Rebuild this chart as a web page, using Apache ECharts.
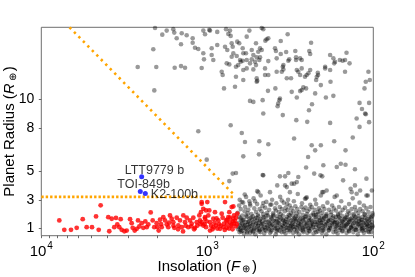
<!DOCTYPE html>
<html><head><meta charset="utf-8">
<script src="https://cdn.jsdelivr.net/npm/echarts@6/dist/echarts.min.js"></script>
<style>html,body{margin:0;padding:0;background:#fff}#c{width:415px;height:277px}</style>
</head><body><div id="c"></div>
<script>
// ---- data: insolation (Earth units), radius (Earth radii) ----
const xTicks = [10000, 1000, 100];
const xMinorTicks = [9000,8000,7000,6000,5000,4000,3000,2000,900,800,700,600,500,400,300,200];
const yTicks = [1, 3, 5, 8, 10];

// small, highly irradiated planets (red)
const hotSmall = [
[7790,1.56],[7270,0.91],[6625,0.91],[6120,1.05],[5630,1.65],[5330,1.09],[4950,1.09],[4680,1.84],[4510,0.91],[4390,2.61],
[3950,1.79],[3895,0.81],[3765,1.68],[3635,1.09],[3550,1.74],[3485,1.28],[3390,1.09],[3325,1.65],[3280,0.91],[3160,0.81],
[3060,0.86],[2920,1.65],[2855,1.37],[2815,1.05],[2737,0.86],[2663,0.98],[2615,1.56],[2568,1.14],[2485,1.37],[2430,1.05],
[2363,1.49],[2318,1.09],[2267,1.28],[2193,2.12],[2133,1.56],[2086,1.09],[2018,1.37],[1963,0.86],[1927,1.61],[1883,1.09],
[1841,1.79],[1798,1.56],[1756,1.28],[1718,1.09],[1678,1.91],[1639,1.68],[1603,1.44],[1581,1.05],[1529,1.75],[1495,1.21],
[1460,1.56],[1426,1.09],[1395,1.91],[1362,1.44],[1331,1.75],[1302,1.09],[1272,1.56],[1242,1.33],[1214,1.75],[1186,1.05],
[1158,1.44],[1117,1.91],[1107,1.56],[1092,2.14],[1081,2.72],[1057,1.21],[1032,1.68],[1000,2.84],[973,2.26],
[1081,2.84],[1057,2.37],[1018,2.26],[1032,1.79],[986,1.91],[1081,1.44],[1018,1.09],[963,1.44],[920,1.68],[899,2.14],
[887,1.21],[858,1.56],[838,0.98],[819,2.03],[808,1.75],[793,1.33],[782,2.84],[771,1.56],[764,1.05],[747,1.79],
[737,2.14],[730,1.44],[713,1.28],[697,1.68],[690,1.91],[681,1.52],[672,1.75],[660,2.03],[713,2.49],[697,2.54],
[963,0.86],[920,1.09],[1040,1.3],[1010,1.5],[950,1.2],[930,0.95],[905,1.4],[870,1.0],[850,1.3],[830,1.2],
[800,1.1],[785,0.9],[760,1.3],[740,1.0],[720,1.2],[705,0.95],[690,1.35],[675,1.15],[665,1.3],[880,1.7],
[760,1.6],[700,1.5],[730,1.75],[1100,1.3],[1150,1.2],[1200,0.95],[1250,1.15],[1350,1.2],[1400,0.8],[1500,0.95],
[1600,1.2],[1700,1.4],[1900,1.3],[2000,1.1]
];

// all other planets, sparse upper part
const othersUpper = [
[2065,14.95],[1867,14.49],[1756,14.77],[1603,14.87],[1581,14.63],[1529,14.24],[1426,14.59],[1440,13.82],[1331,14.45],[1225,14.24],
[1225,13.93],[1186,13.58],[1133,13.49],[1057,14.77],[1032,14.52],[1057,13.19],[1047,12.77],[973,14.82],[2115,13.47],[2626,12.24],
[2029,12.24],[1572,12.19],[1440,12.30],[1362,12.19],[1081,12.17],[2086,10.61],[1133,7.77],
[963,14.77],[871,14.68],[771,14.87],[730,14.77],[747,14.54],[723,14.40],[558,14.77],[470,14.95],[460,14.87],[328,14.52],
[579,14.35],[941,13.54],[941,13.07],[920,12.72],[871,13.77],[782,13.65],[758,13.42],[713,13.89],[703,13.65],[660,14.0],
[642,13.89],[612,13.54],[607,13.19],[697,13.19],[713,12.95],[665,13.0],[635,12.72],[579,12.72],[585,13.19],[540,13.42],
[528,13.07],[509,13.89],[493,13.30],[481,13.54],[470,13.42],[447,14.07],[439,14.17],[429,14.24],[361,14.05],[391,13.54],
[386,13.35],[361,13.14],[335,13.28],[295,13.35],[237,13.93],[243,13.35],[240,13.14],[292,12.91],[292,12.72],[276,12.84],
[270,12.72],[321,12.77],[325,12.67],[348,12.37],[351,12.26],[382,12.84],[429,12.65],[504,12.91],[486,12.72],[481,12.91],
[516,12.60],[553,12.49],[540,12.77],[509,12.37],[528,12.07],[612,12.67],[629,12.60],[764,12.49],[737,12.42],[672,12.26],
[651,12.37],[607,12.03],[579,12.14],[819,11.91],[808,11.68],[672,11.56],[607,11.33],[793,10.75],[681,10.86],[504,11.45],
[504,11.21],[449,11.68],[449,12.14],[429,11.68],[382,11.91],[356,11.91],[348,12.07],[332,11.45],[313,11.45],[289,12.03],
[283,11.91],[276,11.68],[270,12.14],[258,11.56],[252,11.68],[240,12.03],[246,11.80],[216,11.84],[215,11.68],[219,11.56],
[221,11.33],[207,10.98],[195,12.26],[195,12.14],[182,12.03],[182,13.07],[174,12.84],[170,12.60],[172,12.49],[159,12.72],
[153,12.67],[148,12.72],[145,13.23],[139,12.49],[148,11.91],[181,11.21],[174,10.23],[193,10.12],[224,10.40],[234,9.65],
[244,9.23],[264,10.82],[254,10.75],[270,10.63],[276,10.56],[289,10.12],[310,10.51],[351,8.89],[365,10.05],[368,9.93],
[374,9.70],[377,9.51],[389,10.75],[431,10.58],[464,9.93],[460,9.0],[553,9.88],[528,9.81],[500,11.28],[723,8.19],
[620,7.65],[291,8.54],[250,8.42],[182,8.35],[133,7.33],[107,11.91],[105,11.33],[111,11.21],[113,10.75],[121,9.74],
[106,9.74],[117,9.32],[112,9.0],[111,8.95],[126,8.65],[121,8.07],[106,8.40],[300,7.26],
[593,7.02],[486,7.07],[429,6.86],[488,6.16],[607,6.02],[235,6.79],[207,6.79],[224,6.44],[172,7.07],[147,6.44],
[247,5.98],[254,5.24],[200,5.40],[157,5.51],[147,5.44],[129,5.12],[166,5.28],[227,4.82],[283,4.58],[289,4.23],
[300,4.12],[365,4.63],[340,4.63],[379,4.0],[460,4.70],[493,3.53],[419,3.53],[152,4.35],[110,4.47],[102,3.65],
[120,3.65],[191,3.65],[200,3.53],[135,3.53],[703,4.82],[672,4.86],[737,4.30],[1008,5.79],[464,4.72],[595,3.37],
[500,3.60],[332,3.88],[325,4.86],[208,4.70],[203,4.63],[129,4.0],[340,4.0],[310,4.12],[318,3.53],[258,3.07],
[252,3.18],[203,3.53],[166,3.30],[137,3.77],[110,3.30],[126,3.42],[620,2.84],[553,2.72],[516,2.9],[460,2.77],
[411,2.67],[356,2.95],[330,2.72]
];

// all other planets, dense small-planet band
const othersBand = [
[652,0.95],[646,1.4],[655,2.1],[643,2.6],[640,0.75],[635,1.2],[632,1.7],[638,3.0],[627,1.05],[622,1.55],[629,2.35],
[614,0.85],[610,1.3],[616,1.9],[608,2.8],[602,0.65],[598,1.15],[604,1.6],[596,2.2],[590,1.0],[586,1.45],[592,2.5],[584,3.2],
[577,0.8],[573,1.25],[579,1.8],[571,2.05],[564,1.1],[560,1.5],[566,2.3],[558,2.9],[552,0.7],[548,0.95],[554,1.35],[546,1.75],[551,2.6],
[540,1.2],[536,1.6],[542,2.0],[527,0.85],[523,1.05],[529,1.45],[521,2.4],[526,3.1],[514,0.6],[510,1.3],[516,1.7],[508,2.15],
[502,0.9],[498,1.15],[504,1.55],[496,1.95],[501,2.7],[490,1.0],[486,1.4],[492,1.85],[484,2.35],
[478,0.75],[474,1.2],[480,1.65],[472,2.2],[477,3.3],[466,0.95],[462,1.35],[468,1.5],[460,2.0],[465,2.55],
[454,0.65],[450,1.1],[456,1.75],[448,2.45],[442,0.85],[438,1.25],[444,1.6],[436,2.1],[441,2.85],
[430,1.0],[426,1.45],[432,1.9],[424,2.3],[419,0.7],[415,1.15],[421,1.35],[413,1.8],[418,2.65],
[408,0.9],[404,1.3],[410,1.7],[402,2.05],[407,3.0],[397,1.05],[393,1.5],[399,1.95],[391,2.4],
[387,0.6],[383,0.8],[389,1.2],[381,1.65],[386,2.25],[384,2.75],[377,1.0],[373,1.4],[379,1.85],[371,2.15],
[367,0.85],[363,1.1],[369,1.55],[361,2.0],[366,2.5],[364,3.2],[357,0.75],[353,1.25],[359,1.7],[351,1.9],[356,2.35],
[347,0.95],[343,1.35],[349,1.6],[341,2.2],[346,2.8],[338,0.65],[334,1.05],[340,1.5],[332,1.8],[337,2.45],
[329,0.9],[325,1.2],[331,1.45],[323,1.95],[328,2.3],[326,3.0],[320,0.8],[316,1.15],[322,1.7],[314,2.1],[319,2.6],
[312,1.0],[308,1.3],[313,1.55],[306,1.9],[311,2.4],[304,0.7],[300,0.95],[305,1.4],[298,1.75],[303,2.2],[301,2.9],
[296,1.1],[292,1.5],[297,1.65],[290,2.05],[295,2.55],[288,0.85],[284,1.25],[289,1.6],[282,1.85],[287,2.35],[285,3.4],
[280,0.6],[276,1.0],[281,1.35],[274,1.7],[279,2.15],[272,0.9],[268,1.2],[273,1.45],[266,1.95],[271,2.5],[269,2.75],
[264,0.75],[260,1.1],[265,1.55],[258,1.8],[263,2.3],[257,0.95],[253,1.3],[258,1.65],[251,2.0],[256,2.45],[254,3.1],
[250,0.7],[246,1.05],[251,1.4],[244,1.75],[249,2.2],[243,0.85],[239,1.2],[244,1.5],[237,1.9],[242,2.35],[240,2.65],
[236,1.0],[232,1.35],[237,1.6],[230,2.05],[235,2.5],[229,0.65],[225,0.9],[230,1.25],[223,1.7],[228,1.95],[226,2.3],[224,3.0],
[222,1.1],[218,1.45],[223,1.8],[216,2.15],[221,2.7],[216,0.8],[212,1.0],[217,1.35],[210,1.6],[215,2.0],[213,2.4],
[210,0.95],[206,1.25],[211,1.55],[204,1.85],[209,2.25],[207,3.3],[204,0.7],[200,1.15],[205,1.4],[198,1.75],[203,2.1],[201,2.55],
[198,0.9],[194,1.3],[199,1.65],[192,1.9],[197,2.35],[192,0.6],[188,1.05],[193,1.45],[186,1.7],[191,2.0],[189,2.8],
[186,0.85],[182,1.2],[187,1.55],[180,1.95],[185,2.3],[180,1.0],[176,1.35],[181,1.6],[174,1.85],[179,2.15],[177,2.6],
[174,0.75],[170,1.1],[175,1.5],[168,1.8],[173,2.4],[171,3.2],[169,0.95],[165,1.25],[170,1.45],[163,2.0],[168,2.25],
[164,0.65],[160,1.05],[165,1.4],[158,1.7],[163,1.9],[161,2.5],[159,0.9],[155,1.2],[160,1.55],[153,1.85],[158,2.1],[156,2.9],
[154,0.8],[150,1.15],[155,1.35],[148,1.65],[153,2.3],[149,1.0],[145,1.3],[150,1.6],[144,1.95],[148,2.45],
[145,0.7],[141,0.95],[146,1.25],[139,1.5],[144,1.8],[142,2.2],[140,2.7],[140,0.85],[136,1.1],[141,1.45],[135,1.75],[139,2.05],
[136,1.05],[132,1.35],[137,1.65],[131,1.9],[135,2.35],[133,3.1],[132,0.75],[128,1.0],[133,1.2],[127,1.55],[131,2.0],[129,2.5],
[128,0.9],[124,1.3],[129,1.7],[123,1.85],[127,2.25],[124,0.6],[120,1.15],[125,1.4],[119,1.6],[123,2.1],[121,2.8],
[121,0.85],[117,1.05],[122,1.5],[116,1.8],[120,2.35],[117,0.95],[113,1.25],[118,1.45],[112,1.95],[116,2.2],[114,2.6],
[114,0.7],[110,1.1],[115,1.35],[109,1.65],[113,2.0],[111,0.9],[107,1.2],[112,1.55],[106,1.85],[110,2.4],[108,3.3],
[108,0.8],[104,1.0],[109,1.3],[103,1.7],[107,2.15],[105,0.95],[102,1.25],[106,1.6],[101,1.9],[104,2.5],
[103,0.75],[101,1.15],[102,1.45],[101,2.05]
];

// all other planets, densest core of the band
const othersCore = [
[648,1.1],[633,0.9],[619,1.35],[605,1.05],[591,1.25],[580,0.95],[569,1.45],[556,1.15],[544,0.85],[532,1.3],[519,1.0],[506,1.4],
[494,1.2],[482,0.9],[470,1.3],[458,1.05],[446,1.45],[434,1.15],[423,0.95],[411,1.25],[400,1.55],[389,1.0],[379,1.25],[368,1.35],
[358,1.05],[348,1.15],[339,1.3],[330,1.05],[321,1.4],[313,1.2],[305,1.1],[297,1.3],[289,1.05],[281,1.15],[274,1.3],[266,1.05],
[259,1.4],[252,1.2],[245,1.0],[238,1.3],[231,1.1],[225,1.45],[218,1.25],[212,1.15],[206,1.4],[200,1.0],[195,1.2],[189,1.35],
[183,1.05],[178,1.25],[172,1.4],[167,1.15],[162,1.3],[157,1.05],[152,1.45],[147,1.15],[143,1.35],[138,1.25],[134,1.0],[130,1.4],
[126,1.1],[122,1.3],[118,1.2],[115,1.0],[111,1.4],[108,1.15],[105,1.35],[102,1.05],
[641,1.8],[612,1.6],[583,1.9],[557,1.7],[531,1.85],[506,1.75],[483,1.55],[461,1.8],[440,1.9],[420,1.55],[401,1.85],[383,1.5],
[366,1.8],[350,1.55],[334,1.65],[319,1.9],[305,1.6],[292,1.85],[279,1.55],[266,1.7],[254,1.85],[243,1.6],[232,1.5],[222,1.95],
[212,1.75],[202,1.6],[193,1.85],[185,1.5],[176,1.75],[169,1.6],[161,1.8],[154,1.5],[147,1.75],[141,1.6],[134,1.55],[128,1.8],
[122,1.7],[117,1.6],[112,1.75],[107,1.5],[103,1.8],
[625,0.8],[575,0.7],[530,0.75],[488,0.8],[450,0.9],[412,0.8],[378,0.9],[345,0.8],[316,0.9],[290,0.75],[265,0.85],[242,0.8],
[221,0.75],[202,0.85],[185,0.9],[168,0.8],[153,0.85],[140,0.8],[127,0.9],[116,0.85],[106,0.75]
];

// named planets
const namedPlanets = ['LTT9779 b', 'TOI-849b', 'K2-100b'];
const namedS = [2485, 2533, 2363];
const namedR = [4.61, 3.58, 3.44];

// desert boundaries
const boundaryFlat = [[10000, 3.2], [690, 3.2]];
const boundarySlope = [[6760, 15], [697, 3.4]];

// ---- chart ----
const FONT = '"Liberation Sans", Arial, sans-serif';
const labelOffsets = { 'LTT9779 b': [-14.5, -3.5], 'TOI-849b': [-20.5, -4.5], 'K2-100b': [8, 3.5] };
const nameRich = {
  n: { fontSize: 15, fontFamily: FONT, color: '#000' },
  i: { fontSize: 15, fontFamily: FONT, fontStyle: 'italic', color: '#000' },
  s: { fontSize: 10, fontFamily: FONT, color: '#000', padding: [6, 2, 0, 2] }
};

const chart = echarts.init(document.getElementById('c'), null, { renderer: 'canvas' });
chart.setOption({
  animation: false,
  grid: { left: 41.3, right: 41.7, top: 27.3, bottom: 41.3, show: true, borderColor: '#6e6e6e', borderWidth: 1,
    containLabel: false, outerBoundsMode: 'none' },
  xAxis: {
    type: 'log', logBase: 10, min: 100, max: 10000, inverse: true,
    axisLine: { show: false },
    splitLine: { show: false },
    axisTick: { show: true, inside: false, length: 2.5, lineStyle: { color: '#444', width: 0.8 },
      customValues: xTicks.concat(xMinorTicks) },
    axisLabel: {
      customValues: xTicks, margin: 6, color: '#000',
      formatter: v => '{b|10}{e|' + Math.round(Math.log10(v)) + '}',
      rich: {
        b: { fontSize: 15, fontFamily: FONT, color: '#000', lineHeight: 18, verticalAlign: 'bottom' },
        e: { fontSize: 10, fontFamily: FONT, color: '#000', lineHeight: 18, verticalAlign: 'top', padding: [0, 0, 0, 1] }
      }
    },
    name: '{n|Insolation (}{i|F}{s|⊕}{n|)}', nameLocation: 'middle', nameGap: 23, nameMoveOverlap: false,
    nameTextStyle: { rich: nameRich }
  },
  yAxis: {
    type: 'value', min: 0.5, max: 15,
    axisLine: { show: false },
    splitLine: { show: false },
    axisTick: { show: true, length: 2.5, lineStyle: { color: '#444', width: 0.8 }, customValues: yTicks },
    axisLabel: { customValues: yTicks, margin: 7, fontSize: 14, fontFamily: FONT, color: '#000' },
    name: '{n|Planet Radius (}{i|R}{s|⊕}{n|)}', nameLocation: 'middle', nameGap: 23, nameMoveOverlap: false,
    nameTextStyle: { rich: nameRich }
  },
  series: [
    { type: 'scatter', data: othersUpper.concat(othersBand, othersCore), symbolSize: 4.6,
      itemStyle: { color: 'rgba(0,0,0,0.5)' }, silent: true, z: 2 },
    { type: 'scatter', data: hotSmall, symbolSize: 4.8,
      itemStyle: { color: '#ff0000' }, silent: true, z: 3 },
    { type: 'line', data: boundaryFlat, symbol: 'none', clip: true, z: 4,
      lineStyle: { color: '#ffa500', width: 2.6, type: [2.4, 2.0] } },
    { type: 'line', data: boundarySlope, symbol: 'none', clip: true, z: 4,
      lineStyle: { color: '#ffa500', width: 2.6, type: [2.4, 4.0] } },
    { type: 'scatter', symbolSize: 5, z: 5,
      itemStyle: { color: '#0000ff' },
      data: namedPlanets.map((n, i) => ({
        name: n, value: [namedS[i], namedR[i]],
        label: { show: true, formatter: n, position: labelOffsets[n], align: 'left', verticalAlign: 'middle',
          fontSize: 12.5, fontFamily: FONT, color: '#000' }
      }))
    }
  ]
});
</script></body></html>
